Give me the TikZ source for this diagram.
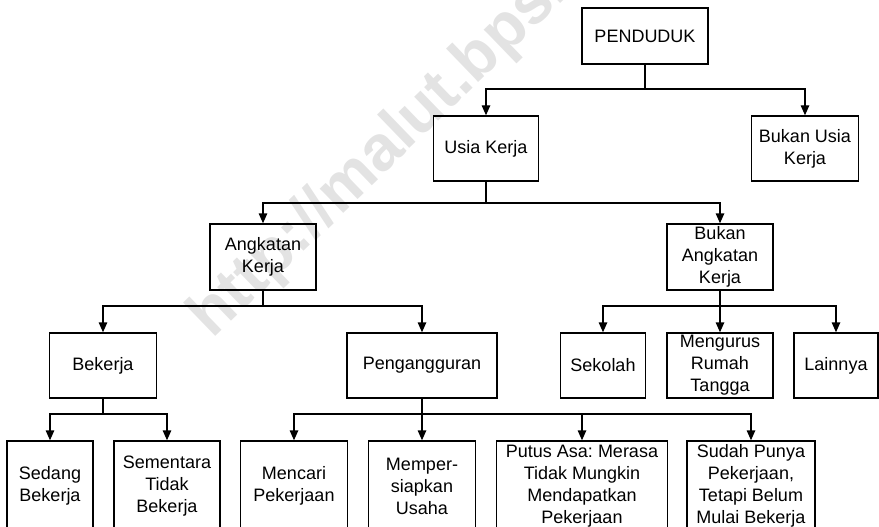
\documentclass[tikz,border=0pt]{standalone}
\usepackage{fontspec}
\setmainfont{Liberation Sans}
\usepackage{tikz}
\usetikzlibrary{arrows.meta,positioning,calc}
\frenchspacing

\begin{document}
\begin{tikzpicture}[x=1pt,y=-1pt,
        bx/.style={draw, line width=1.4pt, inner sep=1pt, align=center,
                   font=\fontsize{18}{22}\selectfont},
        arr/.style={-{Triangle[length=10pt,width=8.5pt]}, line width=1.4pt},
        ln/.style={line width=1.4pt}
      ]
        \useasboundingbox (0,0) rectangle (879,527);
        \clip (0,0) rectangle (879,527);
        % Watermark
        \node[anchor=base west, rotate=44, text=gray!22,
              font=\fontsize{64}{66}\selectfont\bfseries] (wm) at (210,342) {http://malut.bps.go.id};
        % Level 1
        \node[bx, minimum width=126pt, minimum height=56pt] (pend) at (645,36) {PENDUDUK};
        % Level 2
        \node[bx, minimum width=105pt, minimum height=65pt] (usia) at (486,148.5) {Usia Kerja};
        \node[bx, minimum width=107pt, minimum height=65pt] (bukanusia) at (805,148.5) {Bukan Usia\\Kerja};
        % Level 3
        \node[bx, minimum width=106pt, minimum height=66pt] (angk) at (263,257) {Angkatan\\Kerja};
        \node[bx, minimum width=106pt, minimum height=66pt] (bukanangk) at (720,257) {Bukan\\Angkatan\\Kerja};
        % Level 4
        \node[bx, minimum width=107pt, minimum height=65pt] (bekerja) at (103,365.5) {Bekerja};
        \node[bx, minimum width=150pt, minimum height=65pt] (peng) at (422,365.5) {Pengangguran};
        \node[bx, minimum width=85pt, minimum height=65pt] (sekolah) at (603,365.5) {Sekolah};
        \node[bx, minimum width=106pt, minimum height=65pt] (rumah) at (720,365.5) {Mengurus\\Rumah\\Tangga};
        \node[bx, minimum width=84pt, minimum height=65pt] (lain) at (836,365.5) {Lainnya};
        % Level 5
        \node[bx, minimum width=86pt, minimum height=90pt] (sedang) at (50,486) {Sedang\\Bekerja};
        \node[bx, minimum width=106pt, minimum height=90pt] (sementara) at (167,486) {Sementara\\Tidak\\Bekerja};
        \node[bx, minimum width=107pt, minimum height=90pt] (mencari) at (294,486) {Mencari\\Pekerjaan};
        \node[bx, minimum width=107pt, minimum height=90pt] (siap) at (422,486) {Memper-\\siapkan\\Usaha};
        \node[bx, minimum width=171pt, minimum height=90pt] (putus) at (582,486) {Putus Asa: Merasa\\Tidak Mungkin\\Mendapatkan\\Pekerjaan};
        \node[bx, minimum width=128pt, minimum height=90pt] (sudah) at (751,486) {Sudah Punya\\Pekerjaan,\\Tetapi Belum\\Mulai Bekerja};
        % Bus points
        \coordinate (b1) at (645,89);
        \coordinate (b2) at (486,203);
        \coordinate (b3) at (263,306);
        \coordinate (b4) at (720,306);
        \coordinate (b5) at (103,414);
        \coordinate (b6) at (422,414);
        % Arrows: Penduduk
        \draw[ln] (pend) -- (b1);
        \draw[arr] (b1) -| (usia);
        \draw[arr] (b1) -| (bukanusia);
        % Arrows: Usia Kerja
        \draw[ln] (usia) -- (b2);
        \draw[arr] (b2) -| (angk);
        \draw[arr] (b2) -| (bukanangk);
        % Arrows: Angkatan Kerja
        \draw[ln] (angk) -- (b3);
        \draw[arr] (b3) -| (bekerja);
        \draw[arr] (b3) -| (peng);
        % Arrows: Bukan Angkatan Kerja
        \draw[ln] (bukanangk) -- (b4);
        \draw[arr] (b4) -| (sekolah);
        \draw[arr] (b4) -- (rumah);
        \draw[arr] (b4) -| (lain);
        % Arrows: Bekerja
        \draw[ln] (bekerja) -- (b5);
        \draw[arr] (b5) -| (sedang);
        \draw[arr] (b5) -| (sementara);
        % Arrows: Pengangguran
        \draw[ln] (peng) -- (b6);
        \draw[arr] (b6) -| (mencari);
        \draw[arr] (b6) -- (siap);
        \draw[arr] (b6) -| (putus);
        \draw[arr] (b6) -| (sudah);
      \end{tikzpicture}
\end{document}
